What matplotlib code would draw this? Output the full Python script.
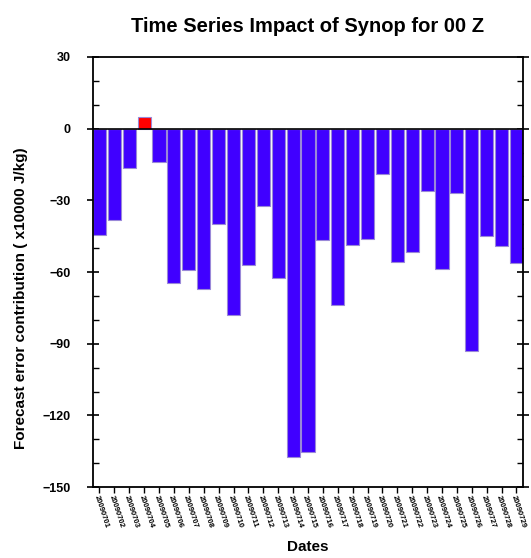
import matplotlib
matplotlib.use("Agg")
import matplotlib.pyplot as plt
from matplotlib.ticker import MultipleLocator

plt.rcParams['font.family'] = ['Liberation Sans', 'DejaVu Sans']

dates = ["20090701", "20090702", "20090703", "20090704", "20090705", "20090706",
         "20090707", "20090708", "20090709", "20090710", "20090711", "20090712",
         "20090713", "20090714", "20090715", "20090716", "20090717", "20090718",
         "20090719", "20090720", "20090721", "20090722", "20090723", "20090724",
         "20090725", "20090726", "20090727", "20090728", "20090729"]
impact = [-44.3, -38.3, -16.3, 5.0, -14.0, -64.7, -59.3, -66.9, -39.7, -77.9,
          -57.2, -32.5, -62.6, -137.4, -135.3, -46.8, -73.6, -48.5, -46.1, -19.0,
          -55.8, -51.7, -26.0, -58.6, -26.9, -92.9, -45.0, -49.2, -56.4]

fig = plt.figure(figsize=(5.31, 5.58), dpi=100)
ax = fig.add_axes([0.175, 0.127, 0.810, 0.771])

x = list(range(len(impact)))
colors = ['#ff0000' if v > 0 else '#4000ff' for v in impact]
ax.bar(x, impact, width=0.88, color=colors, edgecolor='#9a88d8', linewidth=0.8, zorder=2)
ax.axhline(0, color='black', linewidth=1.2, zorder=3)

ax.set_xlim(-0.44, len(impact) - 0.56)
ax.set_ylim(-150, 30)
ax.yaxis.set_major_locator(MultipleLocator(30))
ax.yaxis.set_minor_locator(MultipleLocator(10))
ax.set_xticks(x)
ax.set_xticklabels(dates, rotation=-72, ha='left', va='top', fontsize=5.5,
                   fontweight='bold', rotation_mode='anchor')
ax.tick_params(axis='y', which='major', direction='inout', length=8, width=1.2,
               labelsize=9, right=True, pad=12)
ax.tick_params(axis='y', which='minor', direction='in', length=4, width=1.0, right=True)
ax.tick_params(axis='x', which='major', direction='out', length=4, width=1.0, pad=1)
for lab in ax.get_yticklabels():
    lab.set_fontweight('bold')
for sp in ax.spines.values():
    sp.set_linewidth(1.3)

ax.set_title("Time Series Impact of Synop for 00 Z", fontsize=14.5, fontweight='bold', pad=18)
ax.set_ylabel("Forecast error contribution ( x10000 J/kg)", fontsize=11, fontweight='bold',
              labelpad=10)
ax.yaxis.set_label_coords(-0.15, 0.44)
ax.set_xlabel("Dates", fontsize=11, fontweight='bold', labelpad=8)

fig.savefig("out.png", dpi=100)
